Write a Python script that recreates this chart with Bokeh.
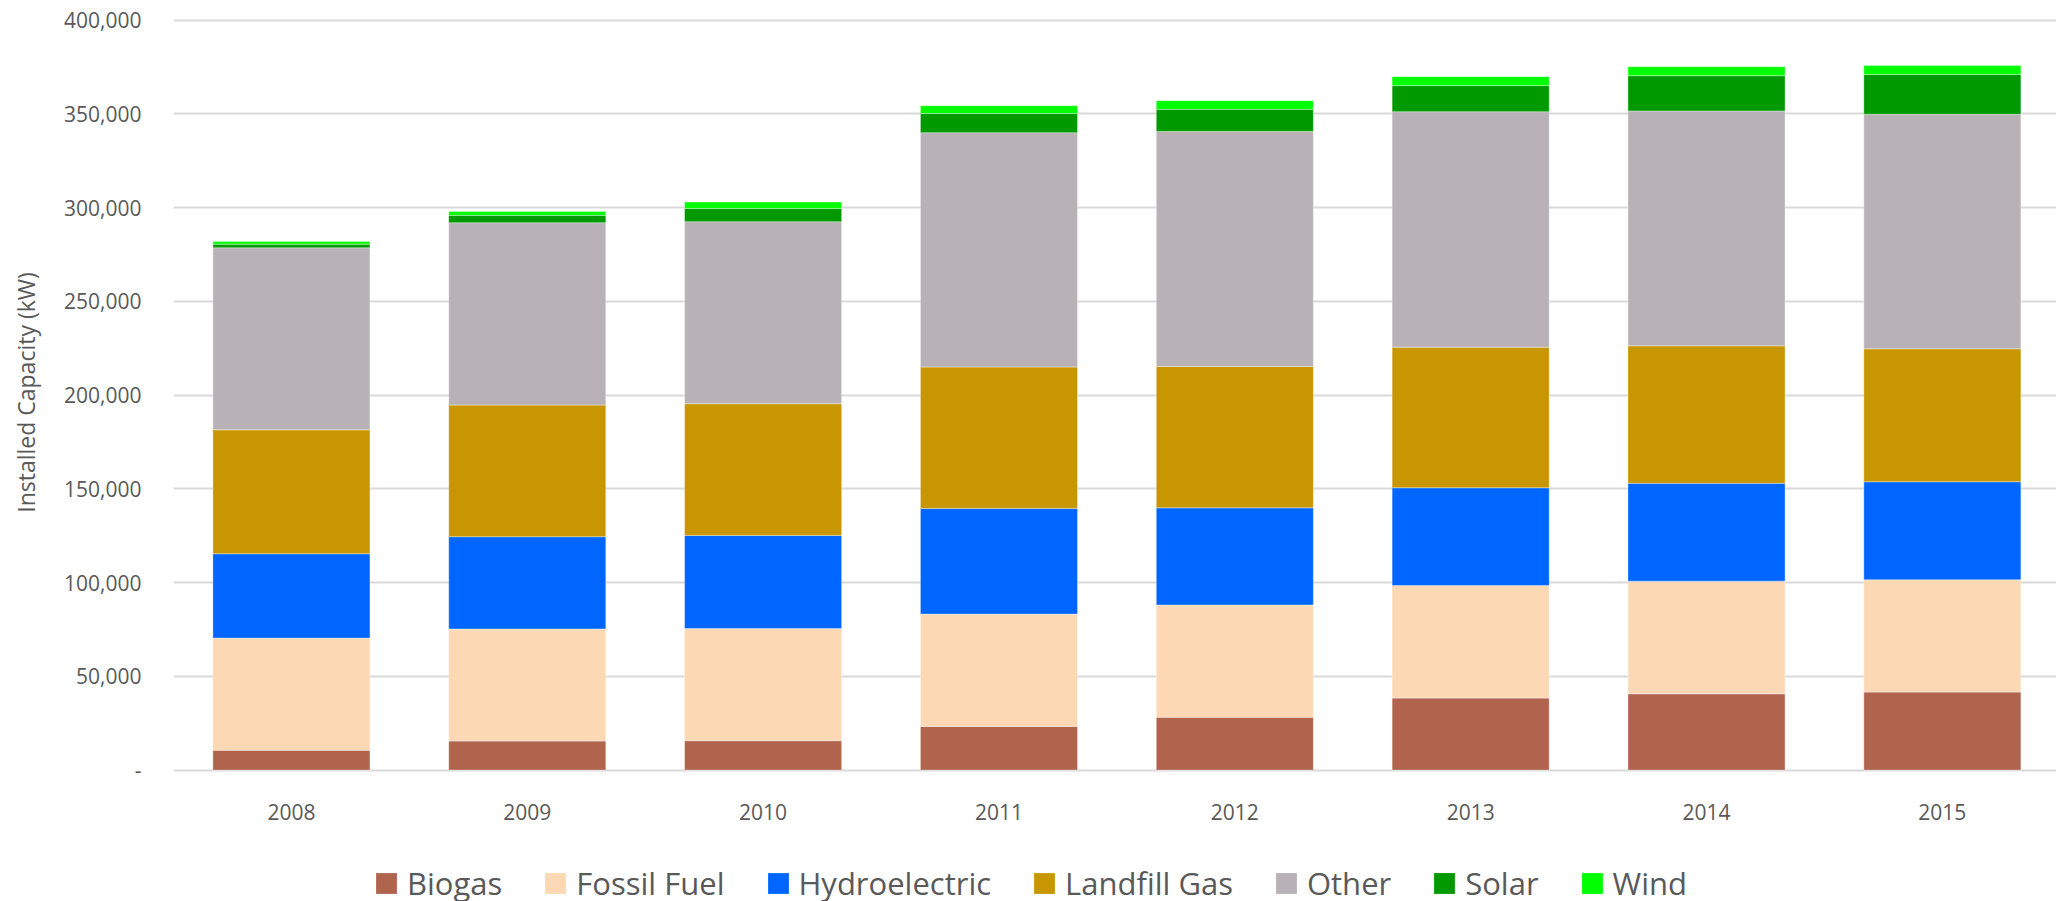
from bokeh.plotting import figure
from bokeh.layouts import column
from bokeh.models import (ColumnDataSource, Range1d, FixedTicker, NumeralTickFormatter,
                          Legend, LegendItem)
from bokeh.embed import file_html
from bokeh.resources import INLINE

# ---- data (kW) ----
years = ["2008", "2009", "2010", "2011", "2012", "2013", "2014", "2015"]
series = ["Biogas", "Fossil Fuel", "Hydroelectric", "Landfill Gas", "Other", "Solar", "Wind"]
biogas = [10600, 15500, 15700, 23300, 28200, 38400, 40700, 41600]
fossil_fuel = [59800, 59800, 59800, 59900, 59900, 60100, 60100, 59900]
hydroelectric = [45000, 49200, 49700, 56400, 51800, 52100, 52200, 52300]
landfill_gas = [66100, 70200, 70200, 75400, 75400, 75000, 73300, 70900]
other = [97100, 97300, 97100, 125000, 125300, 125600, 125300, 125100]
solar = [1900, 3900, 7100, 10200, 11900, 13900, 18800, 21300]
wind = [1400, 2100, 3400, 4200, 4600, 4800, 4800, 4700]
colors = ["#B0644E", "#FDD8B4", "#0066FF", "#C89600", "#B8B2B6", "#009900", "#00FF00"]
y_ticks = [0, 50000, 100000, 150000, 200000, 250000, 300000, 350000, 400000]

TEXT = "#595959"
FONT = "Open Sans"

xs = [int(y) for y in years]
src = ColumnDataSource(dict(x=xs, **dict(zip(series, [biogas, fossil_fuel, hydroelectric,
                                                      landfill_gas, other, solar, wind]))))

p = figure(width=2056, height=865, output_backend="svg", toolbar_location=None,
           x_range=Range1d(2007.5, 2015.484), y_range=Range1d(-1280, 404107),
           min_border_left=173, min_border_right=0, min_border_top=12, min_border_bottom=93)
p.outline_line_color = None
p.background_fill_color = "white"
p.border_fill_color = "white"

renderers = p.vbar_stack(series, x="x", width=0.666, source=src,
                         fill_color=colors, line_color="white", line_alpha=0.35, line_width=1)

# axes
p.xaxis.ticker = FixedTicker(ticks=xs)
p.xaxis.major_label_overrides = {x: y for x, y in zip(xs, years)}
p.yaxis.ticker = FixedTicker(ticks=y_ticks)
p.yaxis.formatter = NumeralTickFormatter(format="0,0")
p.yaxis.major_label_overrides = {0: "-"}
p.yaxis.axis_label = "Installed Capacity (kW)"
for ax in (p.xaxis[0], p.yaxis[0]):
    ax.axis_line_color = None
    ax.major_tick_line_color = None
    ax.minor_tick_line_color = None
    ax.major_label_text_font = FONT
    ax.major_label_text_font_size = "21px"
    ax.major_label_text_color = TEXT
p.xaxis.major_label_standoff = 25
p.yaxis.major_label_standoff = 26
p.yaxis.axis_label_text_font = FONT
p.yaxis.axis_label_text_font_size = "23px"
p.yaxis.axis_label_text_font_style = "normal"
p.yaxis.axis_label_text_color = TEXT
p.yaxis.axis_label_standoff = 19

p.xgrid.visible = False
p.ygrid.grid_line_color = "#D9D9D9"
p.ygrid.grid_line_width = 2

# ---- legend strip below the chart ----
q = figure(width=2056, height=36, output_backend="svg", toolbar_location=None,
           x_axis_location=None, y_axis_location=None, min_border=0,
           x_range=Range1d(0, 1), y_range=Range1d(0, 1))
q.outline_line_color = None
q.grid.visible = False
# key swatches: one off-screen point each so the legend can draw its colour box
key_renderers = [q.vbar(x=[-10], top=[0], width=1, fill_color=c, line_color=None) for c in colors]

legend = Legend(items=[LegendItem(label=s, renderers=[r]) for s, r in zip(series, key_renderers)],
                orientation="horizontal", location=(200, -3),
                label_text_font=FONT, label_text_font_size="31px", label_text_color=TEXT,
                glyph_width=26, glyph_height=26, label_standoff=8, spacing=40,
                padding=0, margin=0, border_line_color=None, background_fill_alpha=0)
q.add_layout(legend)

open("out.html", "w").write(file_html(column(p, q, spacing=0), INLINE))
